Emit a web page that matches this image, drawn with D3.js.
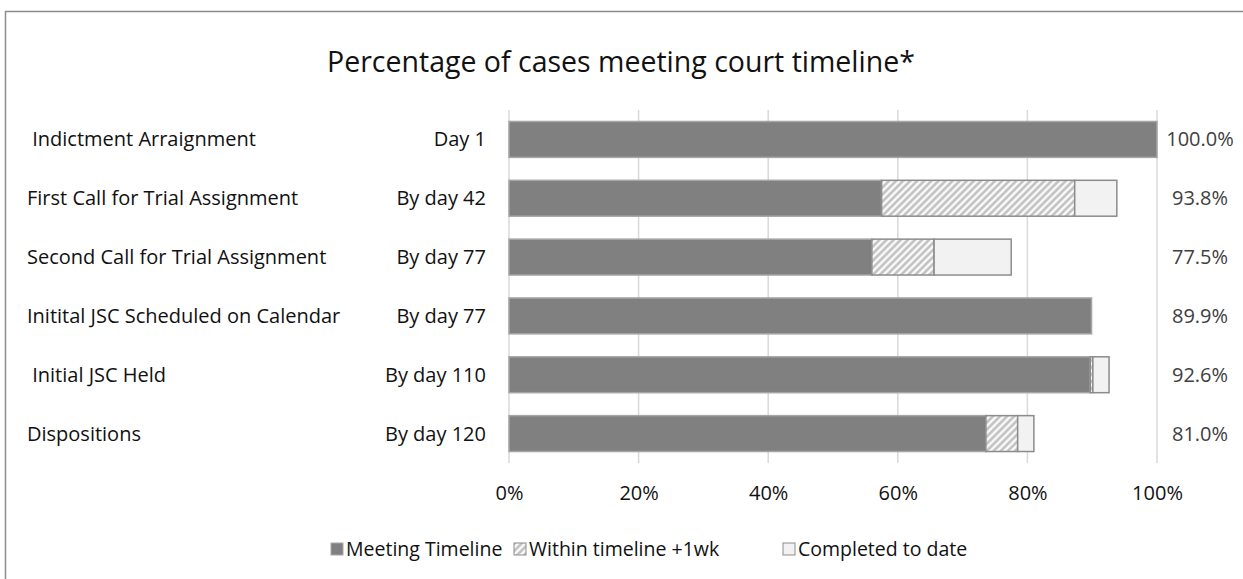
<!DOCTYPE html>
<html lang="en">
<head>
<meta charset="UTF-8">
<script src="https://d3js.org/d3.v7.min.js"></script>
<style>
  body { margin: 0; background: #fff; }
  text { font-family: "Open Sans", "Liberation Sans", Arial, sans-serif; white-space: pre; }
</style>
</head>
<body>
<svg id="chart"></svg>
<script>
// chart data
const categories = [" Indictment Arraignment", "First Call for Trial Assignment", "Second Call for Trial Assignment",
                    "Initital JSC Scheduled on Calendar", " Initial JSC Held", "Dispositions"];
const deadlines = ["Day 1", "By day 42", "By day 77", "By day 77", "By day 110", "By day 120"];
const meeting = [100, 57.5, 56.0, 89.9, 89.7, 73.6];
const withinWeek = [0, 29.8, 9.6, 0, 0.4, 4.9];
const completed = [0, 6.5, 11.9, 0, 2.5, 2.5];
const totals = ["100.0%", "93.8%", "77.5%", "89.9%", "92.6%", "81.0%"];
const tickValues = [0, 20, 40, 60, 80, 100];
const seriesNames = ["Meeting Timeline", "Within timeline +1wk", "Completed to date"];

const W = 1243, H = 579;
const FS = 20;
const svg = d3.select("#chart").attr("width", W).attr("height", H);

// hatch pattern
const defs = svg.append("defs");
const pat = defs.append("pattern")
  .attr("id", "hatch").attr("patternUnits", "userSpaceOnUse")
  .attr("width", 5).attr("height", 5)
  .attr("patternTransform", "rotate(45)");
pat.append("rect").attr("width", 5).attr("height", 5).attr("fill", "#fbfbfb");
pat.append("line").attr("x1", 1.5).attr("y1", 0).attr("x2", 1.5).attr("y2", 5)
  .attr("stroke", "#bdbdbd").attr("stroke-width", 2.4);

// outer frame
svg.append("rect").attr("x", 5.5).attr("y", 11.5).attr("width", 1300).attr("height", 700)
  .attr("fill", "#fff").attr("stroke", "#8c8c8c").attr("stroke-width", 1.5);

svg.append("text").attr("x", 621).attr("y", 72).attr("text-anchor", "middle")
  .attr("font-size", 28.5).attr("fill", "#111")
  .text("Percentage of cases meeting court timeline*");

const x = d3.scaleLinear().domain([0, 100]).range([509, 1157]);
const y = d3.scaleBand().domain(d3.range(categories.length)).range([110, 463]).paddingInner(0.39).paddingOuter(0.195);

// gridlines
svg.append("g").selectAll("line").data(tickValues).join("line")
  .attr("x1", d => x(d)).attr("x2", d => x(d)).attr("y1", 110).attr("y2", 463)
  .attr("stroke", "#d9d9d9").attr("stroke-width", 1.5);

// x axis labels
const xAxis = svg.append("g").attr("transform", "translate(0,486)")
  .call(d3.axisBottom(x).tickValues(tickValues).tickFormat(d => d + "%").tickSize(0).tickPadding(0));
xAxis.select(".domain").remove();
xAxis.selectAll("text").attr("font-size", FS).attr("fill", "#111")
  .style("font-family", "'Open Sans', 'Liberation Sans', Arial, sans-serif");

// stacked bars
const rows = categories.map((c, i) => ({ i, a: meeting[i], b: withinWeek[i], c: completed[i] }));
const stack = d3.stack().keys(["a", "b", "c"])(rows);
const fills = ["#808080", "url(#hatch)", "#f2f2f2"];
const strokes = ["#a6a6a6", "#8c8c8c", "#8c8c8c"];

svg.append("g").selectAll("g").data(stack).join("g")
  .attr("fill", (d, k) => fills[k]).attr("stroke", (d, k) => strokes[k]).attr("stroke-width", 1.5)
  .selectAll("rect").data(d => d.filter(s => s[1] - s[0] > 0)).join("rect")
  .attr("x", s => x(s[0])).attr("width", s => x(s[1]) - x(s[0]))
  .attr("y", s => y(s.data.i)).attr("height", y.bandwidth());

// category and deadline labels
const mid = i => y(i) + y.bandwidth() / 2;
svg.append("g").selectAll("text").data(categories).join("text")
  .attr("x", 27).attr("y", (d, i) => mid(i)).attr("dy", "0.35em")
  .attr("font-size", FS).attr("fill", "#111").text(d => d);
svg.append("g").selectAll("text").data(deadlines).join("text")
  .attr("x", 486).attr("y", (d, i) => mid(i)).attr("dy", "0.35em").attr("text-anchor", "end")
  .attr("font-size", FS).attr("fill", "#111").text(d => d);

// total labels
svg.append("g").selectAll("text").data(totals).join("text")
  .attr("x", 1200).attr("y", (d, i) => mid(i)).attr("dy", "0.35em").attr("text-anchor", "middle")
  .attr("font-size", FS).attr("fill", "#404040").text(d => d);

// legend
const legX = [331, 514, 783];
const leg = svg.append("g").selectAll("g").data(seriesNames).join("g")
  .attr("transform", (d, k) => `translate(${legX[k]},549)`);
leg.append("rect").attr("x", 0).attr("y", -6).attr("width", 12).attr("height", 12)
  .attr("fill", (d, k) => fills[k]).attr("stroke", (d, k) => strokes[k]).attr("stroke-width", 1);
leg.append("text").attr("x", 15).attr("dy", "0.35em").attr("font-size", 19.5).attr("fill", "#111").text(d => d);
</script>
</body>
</html>
